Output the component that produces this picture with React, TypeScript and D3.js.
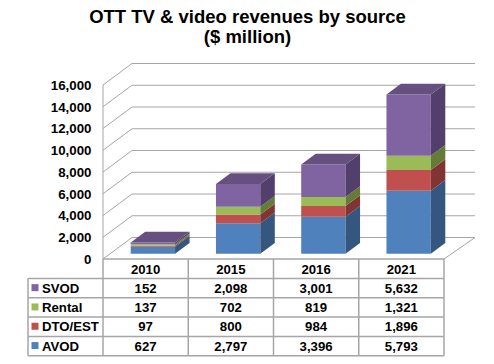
import React from 'react';
import * as d3 from 'd3';

const width = 494;
const height = 364;

const years = ['2010', '2015', '2016', '2021'];
const seriesNames = ['AVOD', 'DTO/EST', 'Rental', 'SVOD'];
const avod = [627, 2797, 3396, 5793];
const dtoEst = [97, 800, 984, 1896];
const rental = [137, 702, 819, 1321];
const svod = [152, 2098, 3001, 5632];
const yTicks = [0, 2000, 4000, 6000, 8000, 10000, 12000, 14000, 16000];

const seriesValues = [avod, dtoEst, rental, svod];
const front = ['#4F81BD', '#C0504D', '#9BBB59', '#8064A2'];
const side = ['#35567E', '#813533', '#657C39', '#523F6C'];
const top = ['#3F6697', '#9A403D', '#7C9647', '#65507F'];

const DX = 29;
const DY = 21.5;
const grid = '#a6a6a6';
const font = '"Liberation Sans", Arial, sans-serif';

const yScale = d3.scaleLinear().domain([0, 16000]).range([259, 85]);
const xScale = d3.scaleBand<string>().domain(years).range([103, 444]);
const fmt = d3.format(',');

function proj(x: number, v: number, z: number): [number, number] {
    return [x + z * DX, yScale(v) - z * DY];
}

function poly(pts: [number, number][]) {
    return pts.map(p => p.join(',')).join(' ');
}

export default function App() {
    const bw = xScale.bandwidth();
    const barW = bw * 0.52;
    const z0 = 0.25;
    const z1 = 0.75;
    const right = 444;
    const rowTop = 278.5;
    const rowH = 19.3;
    // table rows are shown top series first
    const tableOrder = [3, 2, 1, 0];

    const bars = years.map((yr, i) => {
        const cx = xScale(yr)! + bw / 2;
        const xl = cx - barW / 2;
        const xr = cx + barW / 2;
        let base = 0;
        const parts = seriesValues.map((vals, s) => {
            const v0 = base;
            const v1 = base + vals[i];
            base = v1;
            const f = [proj(xl, v0, z0), proj(xr, v0, z0), proj(xr, v1, z0), proj(xl, v1, z0)];
            const sd = [proj(xr, v0, z0), proj(xr, v0, z1), proj(xr, v1, z1), proj(xr, v1, z0)];
            return (
                <g key={s}>
                    <polygon points={poly(f)} fill={front[s]} />
                    <polygon points={poly(sd)} fill={side[s]} />
                </g>
            );
        });
        const tp = [proj(xl, base, z0), proj(xr, base, z0), proj(xr, base, z1), proj(xl, base, z1)];
        return (
            <g key={yr}>
                {parts}
                <polygon points={poly(tp)} fill={top[3]} />
            </g>
        );
    });

    return (
        <svg width={width} height={height} style={{position: 'absolute', left: 0, top: 0, background: '#fff'}}
             fontFamily={font}>
            <text x={247.5} y={22.5} textAnchor="middle" fontSize={18.5} fontWeight="bold">OTT TV &amp; video revenues by source</text>
            <text x={247.5} y={43} textAnchor="middle" fontSize={18.5} fontWeight="bold">($ million)</text>

            {/* walls */}
            <g stroke={grid} strokeWidth={1} fill="none">
                {yTicks.map(t => {
                    const a = proj(103, t, 0);
                    const b = proj(103, t, 1);
                    const c = proj(right + 2, t, 1);
                    return <polyline key={t} points={poly([a, b, c])} />;
                })}
                <line x1={103} y1={yScale(16000)} x2={103} y2={yScale(0)} />
                <polyline points={poly([proj(right, 0, 0), proj(right + 2, 0, 1)])} />
            </g>
            {yTicks.map(t => (
                <text key={t} x={91.5} y={yScale(t) + 4.8} textAnchor="end" fontSize={13.3} fontWeight="bold">
                    {fmt(t)}
                </text>
            ))}

            {bars}

            {/* data table */}
            <g stroke={grid} strokeWidth={1.5} fill="none">
                <line x1={103} y1={259} x2={right} y2={259} />
                {years.map((yr, i) => (
                    <line key={yr} x1={xScale(yr)!} y1={259} x2={xScale(yr)!} y2={rowTop + rowH * 4} />
                ))}
                <line x1={right} y1={259} x2={right} y2={rowTop + rowH * 4} />
                <line x1={28} y1={rowTop} x2={28} y2={rowTop + rowH * 4} />
                {[0, 1, 2, 3, 4].map(r => (
                    <line key={r} x1={28} y1={rowTop + rowH * r} x2={right} y2={rowTop + rowH * r} />
                ))}
            </g>
            {years.map(yr => (
                <text key={yr} x={xScale(yr)! + bw / 2} y={273.5} textAnchor="middle" fontSize={13.2} fontWeight="bold">{yr}</text>
            ))}
            {tableOrder.map((s, r) => {
                const y = rowTop + rowH * r + rowH / 2;
                return (
                    <g key={s}>
                        <rect x={31.5} y={y - 4} width={7} height={7} fill={front[s]} />
                        <text x={42} y={y + 4.5} fontSize={13.2} fontWeight="bold">{seriesNames[s]}</text>
                        {years.map((yr, i) => (
                            <text key={yr} x={xScale(yr)! + bw / 2} y={y + 4.5} textAnchor="middle" fontSize={13.2}
                                  fontWeight="bold">{fmt(seriesValues[s][i])}</text>
                        ))}
                    </g>
                );
            })}
        </svg>
    );
}
